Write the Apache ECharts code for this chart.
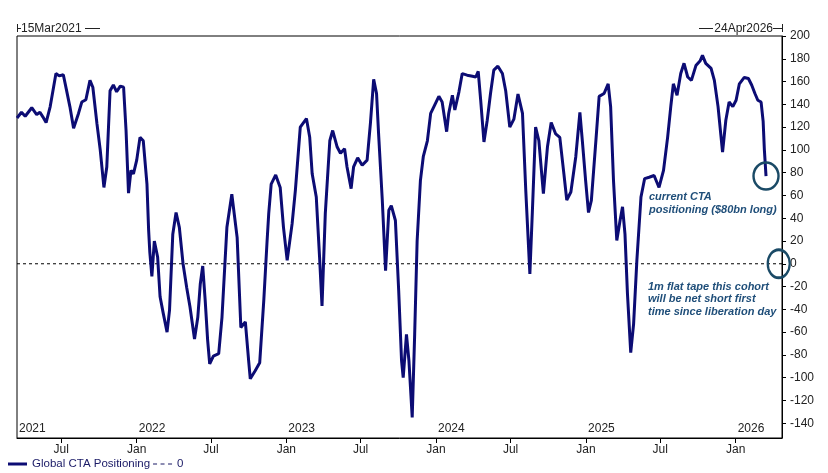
<!DOCTYPE html>
<html><head><meta charset="utf-8">
<script src="https://cdn.jsdelivr.net/npm/echarts@6/dist/echarts.min.js"></script>
<style>html,body{margin:0;padding:0;background:#fff}#c{width:828px;height:473px}</style>
</head><body><div id="c"></div>
<script>
const dates = ['2021-03-15','2021-03-26','2021-04-04','2021-04-20','2021-05-02','2021-05-10','2021-05-17','2021-05-25','2021-06-04','2021-06-18','2021-06-26','2021-07-06','2021-07-14','2021-07-22','2021-07-31','2021-08-12','2021-08-20','2021-08-30','2021-09-09','2021-09-16','2021-09-26','2021-10-04','2021-10-13','2021-10-20','2021-10-28','2021-11-05','2021-11-13','2021-11-22','2021-11-30','2021-12-06','2021-12-12','2021-12-18','2021-12-24','2022-01-01','2022-01-09','2022-01-17','2022-01-26','2022-01-30','2022-02-02','2022-02-07','2022-02-13','2022-02-21','2022-02-27','2022-03-07','2022-03-16','2022-03-22','2022-03-30','2022-04-07','2022-04-15','2022-04-24','2022-05-03','2022-05-11','2022-05-22','2022-05-30','2022-06-05','2022-06-11','2022-06-17','2022-06-23','2022-06-28','2022-07-07','2022-07-20','2022-07-28','2022-08-09','2022-08-21','2022-09-03','2022-09-12','2022-09-23','2022-10-01','2022-10-05','2022-10-17','2022-10-28','2022-11-07','2022-11-15','2022-11-19','2022-11-25','2022-12-06','2022-12-17','2022-12-25','2023-01-03','2023-01-15','2023-01-23','2023-02-04','2023-02-19','2023-02-27','2023-03-05','2023-03-15','2023-03-23','2023-03-29','2023-04-06','2023-04-17','2023-04-24','2023-05-05','2023-05-13','2023-05-23','2023-05-29','2023-06-08','2023-06-14','2023-06-24','2023-07-05','2023-07-17','2023-07-25','2023-08-02','2023-08-09','2023-08-14','2023-08-23','2023-08-31','2023-09-08','2023-09-14','2023-09-24','2023-10-02','2023-10-09','2023-10-13','2023-10-21','2023-10-27','2023-11-04','2023-11-10','2023-11-16','2023-11-24','2023-12-01','2023-12-11','2023-12-19','2023-12-27','2024-01-08','2024-01-16','2024-01-27','2024-02-01','2024-02-10','2024-02-16','2024-02-26','2024-03-05','2024-03-17','2024-03-30','2024-04-07','2024-04-13','2024-04-19','2024-04-27','2024-05-05','2024-05-13','2024-05-21','2024-05-31','2024-06-11','2024-06-19','2024-06-29','2024-07-09','2024-07-19','2024-07-30','2024-08-07','2024-08-17','2024-08-23','2024-08-31','2024-09-08','2024-09-19','2024-09-29','2024-10-08','2024-10-19','2024-10-29','2024-11-08','2024-11-15','2024-11-25','2024-12-07','2024-12-17','2024-12-23','2024-12-31','2025-01-07','2025-01-14','2025-01-25','2025-02-02','2025-02-14','2025-02-24','2025-03-02','2025-03-09','2025-03-17','2025-03-25','2025-03-31','2025-04-06','2025-04-12','2025-04-20','2025-04-27','2025-05-05','2025-05-15','2025-05-24','2025-06-04','2025-06-16','2025-06-28','2025-07-09','2025-07-19','2025-07-27','2025-08-02','2025-08-11','2025-08-20','2025-08-28','2025-09-06','2025-09-15','2025-09-26','2025-10-06','2025-10-12','2025-10-20','2025-11-02','2025-11-10','2025-11-19','2025-11-30','2025-12-08','2025-12-16','2025-12-25','2026-01-02','2026-01-10','2026-01-22','2026-02-01','2026-02-09','2026-02-17','2026-02-24','2026-03-04','2026-03-09','2026-03-12','2026-03-16'];
const values = [128,133,129.5,137,131,133,129,124,138,167,165,166,152,138,119,132,142,144,161,155,123,100,67,85,152,157,151,156,155,117,62,82,79,91,111,108,70,30,10,-11,20,6,-29,-44,-60,-41,26,45,32,0,-21,-38,-66,-47,-18,-2,-32,-67,-88,-81,-79,-47,32,61,23,-56,-51,-85,-101,-94,-87,-32,20,44,70,78,67,32,3,35,64.5,120,127.5,111,79,58.6,6,-37,44,108,117,102.5,97,101,85,66,85,93,86.5,91,123,162,149.5,114,56,-6,47,51,38,-23.5,-85,-100,-62,-85,-135,-62,20,73,94,108,132,138,147,142,116,132,148,135,151,167,165.6,164.7,164,169,143.6,107,126,149.5,170,173.5,167,152,120,127,149,132,64.5,-9,45,120,108,61.6,103,124,114,111,79,56,63,94,133,108,73,45,55.7,108,147,149.5,158,138,73,20.5,38,50,26,-26,-78,-53,3,58.6,74.8,76,77.5,67,82,111,139,158,148,167,176,164,161,174,178,183,176,171.5,161,138,98,126,142,138,143.6,158,163.6,162.7,157,149.5,143.6,142,125,100,77];
const startDate = '2021-03-15';
const endDate = '2026-04-24';
const flatTapeDate = '2026-04-16';
const yMin = -153, yMax = 200;
const yTicks = [-140,-120,-100,-80,-60,-40,-20,0,20,40,60,80,100,120,140,160,180,200];
const monthTicks = ['2021-07-01','2022-01-01','2022-07-01','2023-01-01','2023-07-01','2024-01-01','2024-07-01','2025-01-01','2025-07-01','2026-01-01'];
const yearTicks = ['2021-03-15','2022-01-01','2023-01-01','2024-01-01','2025-01-01','2026-01-01'];
const seriesName = 'Global CTA Positioning';
const zeroName = '0';
const startLabel = '15Mar2021';
const endLabel = '24Apr2026';
const note1 = 'current CTA\npositioning ($80bn long)';
const note2 = '1m flat tape this cohort\nwill be net short first\ntime since liberation day';

function ts(s){const p=s.split('-').map(Number);return new Date(p[0],p[1]-1,p[2]).getTime();}
const FONT = "'Liberation Sans', Arial, sans-serif";
const NAVY = '#0c0c74';
const LEG = '#1a1a66';
const NOTE = '#1f4e79';
const RING = '#1a4a66';
const GL = 17, GRIGHT = 46, GT = 36, GB = 35, W = 828;
const GRX = W - GRIGHT;

const chart = echarts.init(document.getElementById('c'), null, {renderer:'canvas'});
const lineData = dates.map((d,i)=>[ts(d), values[i]]);
const last = lineData[lineData.length-1];

chart.setOption({
  animation:false,
  backgroundColor:'#fff',
  textStyle:{fontFamily:FONT},
  grid:{left:GL, right:GRIGHT, top:GT, bottom:GB, show:true, borderColor:'#000', borderWidth:1, containLabel:false},
  legend:{left:8, top:458, padding:0, itemWidth:19, itemHeight:3, itemGap:3, selectedMode:false,
    textStyle:{fontFamily:FONT, fontSize:11.5, color:LEG},
    data:[{name:seriesName, icon:'rect', itemStyle:{color:NAVY}},
          {name:zeroName, icon:'path://M0,0h4v1.2h-4z M7.5,0h4v1.2h-4z M15,0h4v1.2h-4z', itemStyle:{color:LEG}}]},
  xAxis:[{
    type:'value', min:ts(startDate), max:ts(endDate), position:'bottom', scale:true,
    axisLine:{show:true, onZero:false, lineStyle:{color:'#000', width:1}},
    axisTick:{show:true, inside:false, length:5, customValues:monthTicks.map(ts), lineStyle:{color:'#000'}},
    axisLabel:{customValues:monthTicks.map(ts), formatter:(v)=> new Date(v).getMonth()===0?'Jan':'Jul',
      fontSize:12, color:'#222', margin:6, fontFamily:FONT},
    splitLine:{show:false}
  },{
    type:'value', min:ts(startDate), max:ts(endDate), position:'bottom', scale:true,
    axisLine:{show:false, onZero:false}, axisTick:{show:false},
    axisLabel:{inside:true, customValues:yearTicks.map(ts), formatter:(v)=> String(new Date(v).getFullYear()),
      align:'left', fontSize:12, color:'#222', margin:3, fontFamily:FONT, padding:[0,0,0,2]},
    splitLine:{show:false}
  }],
  yAxis:{type:'value', position:'right', min:yMin, max:yMax,
    axisLine:{show:true, lineStyle:{color:'#000'}},
    axisTick:{show:true, inside:false, length:4, customValues:yTicks, lineStyle:{color:'#000'}},
    axisLabel:{customValues:yTicks, fontSize:12, color:'#222', margin:8, fontFamily:FONT},
    splitLine:{show:false}},
  series:[{
    name:seriesName, type:'line', data:lineData, symbol:'none', showSymbol:false,
    lineStyle:{color:NAVY, width:3}, itemStyle:{color:NAVY}, z:3,
    markPoint:{silent:true, symbol:'circle', label:{show:false},
      itemStyle:{color:'rgba(0,0,0,0)', borderColor:RING, borderWidth:2.5},
      data:[{coord:last, symbolSize:[25,27]},{coord:[ts(flatTapeDate),0], symbolSize:[22,28]}]}
  },{
    name:zeroName, type:'line', data:[[ts(startDate),0],[ts(endDate),0]], symbol:'none', silent:true,
    lineStyle:{color:'#000', width:1, type:[3,3]}, itemStyle:{color:'#000'}, z:2
  }],
  graphic:[
    {type:'line', shape:{x1:GL+0.5,y1:24,x2:GL+0.5,y2:32}, style:{stroke:'#222',lineWidth:1}},
    {type:'line', shape:{x1:GL,y1:28.5,x2:GL+4,y2:28.5}, style:{stroke:'#222',lineWidth:1}},
    {type:'text', x:GL+4, y:28.5, style:{text:startLabel, font:'12px '+FONT, fill:'#222', verticalAlign:'middle', align:'left'}},
    {type:'line', shape:{x1:GL+68,y1:28.5,x2:GL+83,y2:28.5}, style:{stroke:'#222',lineWidth:1}},
    {type:'line', shape:{x1:GRX+0.5,y1:24,x2:GRX+0.5,y2:32}, style:{stroke:'#222',lineWidth:1}},
    {type:'line', shape:{x1:GRX-9,y1:28.5,x2:GRX,y2:28.5}, style:{stroke:'#222',lineWidth:1}},
    {type:'text', x:GRX-9, y:28.5, style:{text:endLabel, font:'12px '+FONT, fill:'#222', verticalAlign:'middle', align:'right'}},
    {type:'line', shape:{x1:GRX-83,y1:28.5,x2:GRX-69,y2:28.5}, style:{stroke:'#222',lineWidth:1}},
    {type:'text', x:649, y:190.5, style:{text:note1, font:'italic bold 11px '+FONT, fill:NOTE, lineHeight:12.7, verticalAlign:'top'}},
    {type:'text', x:648, y:280.5, style:{text:note2, font:'italic bold 11px '+FONT, fill:NOTE, lineHeight:12.4, verticalAlign:'top'}}
  ]
});
</script></body></html>
